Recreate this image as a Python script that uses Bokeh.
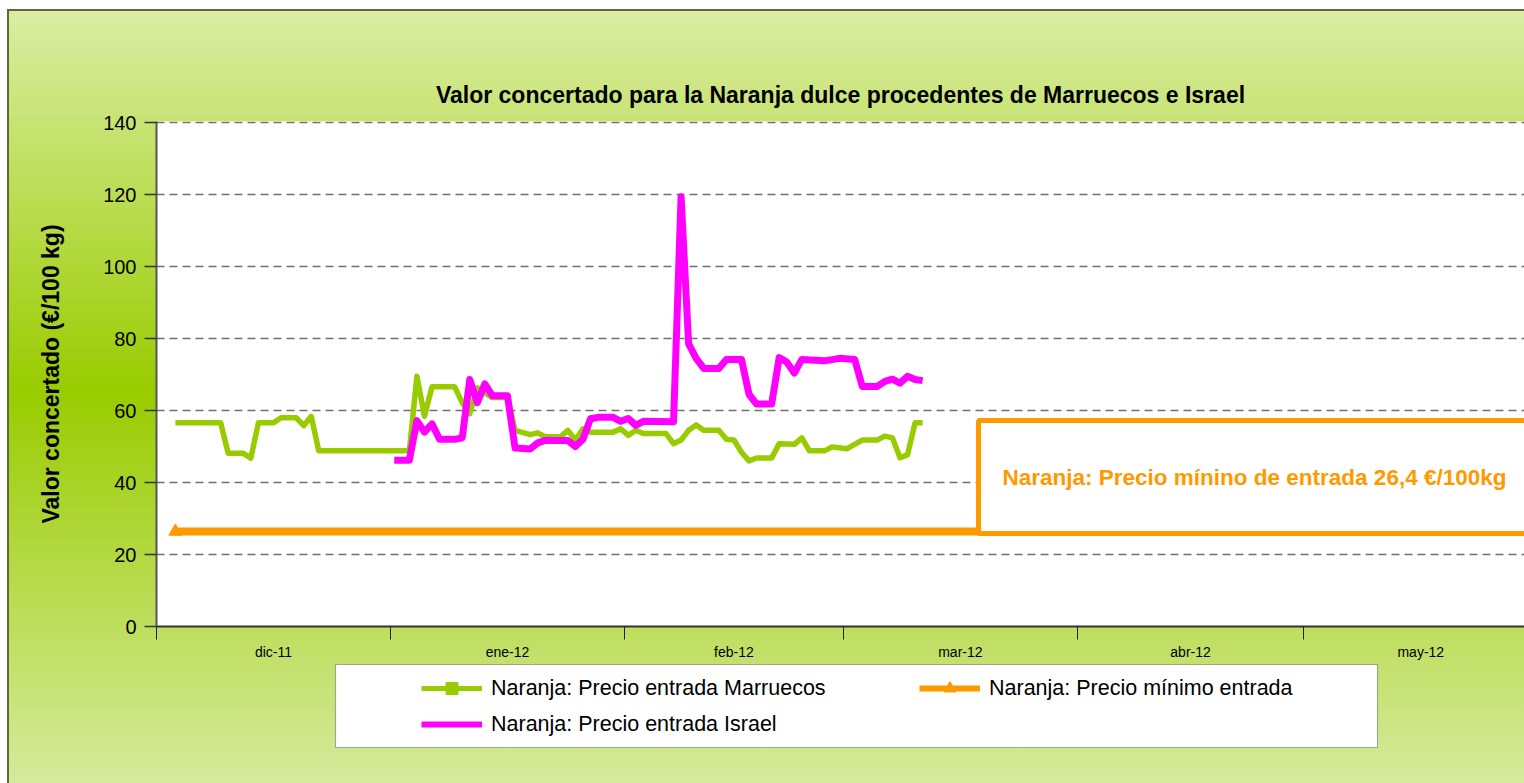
import pandas as pd
from bokeh.plotting import figure
from bokeh.layouts import column
from bokeh.models import (Range1d, FixedTicker, Legend, LegendItem, Label,
                          BoxAnnotation, ColumnDataSource)
from bokeh.embed import file_html
from bokeh.resources import INLINE

# ---------------- data ----------------
title_text = "Valor concertado para la Naranja dulce procedentes de Marruecos e Israel"
y_title = "Valor concertado (€/100 kg)"
note_text = "Naranja: Precio mínino de entrada 26,4 €/100kg"

month_starts = ["2011-12-01", "2012-01-01", "2012-02-01", "2012-03-01",
                "2012-04-01", "2012-05-01", "2012-06-01"]
month_labels = ["dic-11", "ene-12", "feb-12", "mar-12", "abr-12", "may-12"]
y_ticks = [0, 20, 40, 60, 80, 100, 120, 140]

label_marruecos = "Naranja: Precio entrada Marruecos"
label_minimo = "Naranja: Precio mínimo entrada"
label_israel = "Naranja: Precio entrada Israel"

marruecos_dates = [
    "2011-12-03", "2011-12-09", "2011-12-10", "2011-12-12", "2011-12-13", "2011-12-14",
    "2011-12-16", "2011-12-17", "2011-12-19", "2011-12-20", "2011-12-21", "2011-12-22",
    "2012-01-03", "2012-01-04", "2012-01-05", "2012-01-06", "2012-01-09", "2012-01-10",
    "2012-01-11", "2012-01-12", "2012-01-14", "2012-01-16", "2012-01-17", "2012-01-19",
    "2012-01-20", "2012-01-21", "2012-01-23", "2012-01-24", "2012-01-25", "2012-01-26",
    "2012-01-27", "2012-01-30", "2012-01-31", "2012-02-01", "2012-02-02", "2012-02-03",
    "2012-02-06", "2012-02-07", "2012-02-08", "2012-02-09", "2012-02-10", "2012-02-11",
    "2012-02-13", "2012-02-14", "2012-02-15", "2012-02-16", "2012-02-17", "2012-02-18",
    "2012-02-20", "2012-02-21", "2012-02-23", "2012-02-24", "2012-02-25", "2012-02-27",
    "2012-02-28", "2012-03-01", "2012-03-02", "2012-03-03", "2012-03-05", "2012-03-06",
    "2012-03-07", "2012-03-08", "2012-03-09", "2012-03-10", "2012-03-11"]
marruecos_values = [
    56.6, 56.6, 48.1, 48.1, 46.8, 56.6,
    56.6, 58.0, 58.0, 55.8, 58.4, 48.8,
    48.8, 69.5, 58.4, 66.6, 66.6, 62.2,
    59.1, 66.3, 63.6, 63.6, 54.5, 53.3,
    53.8, 52.7, 52.7, 54.5, 51.8, 54.9,
    54.0, 54.0, 54.9, 53.1, 54.5, 53.6,
    53.6, 50.8, 51.8, 54.5, 56.0, 54.5,
    54.5, 52.0, 51.8, 48.4, 46.0, 46.8,
    46.8, 50.8, 50.6, 52.4, 48.8, 48.8,
    49.9, 49.4, 50.6, 51.8, 51.8, 52.9,
    52.4, 46.9, 47.7, 56.6, 56.6]

israel_dates = [
    "2012-01-01", "2012-01-03", "2012-01-04", "2012-01-05", "2012-01-06", "2012-01-07",
    "2012-01-09", "2012-01-10", "2012-01-11", "2012-01-12", "2012-01-13", "2012-01-14",
    "2012-01-16", "2012-01-17", "2012-01-19", "2012-01-20", "2012-01-21", "2012-01-24",
    "2012-01-25", "2012-01-26", "2012-01-27", "2012-01-28", "2012-01-30", "2012-01-31",
    "2012-02-01", "2012-02-02", "2012-02-03", "2012-02-07", "2012-02-08", "2012-02-09",
    "2012-02-10", "2012-02-11", "2012-02-13", "2012-02-14", "2012-02-16", "2012-02-17",
    "2012-02-18", "2012-02-20", "2012-02-21", "2012-02-22", "2012-02-23", "2012-02-24",
    "2012-02-27", "2012-02-29", "2012-03-02", "2012-03-03", "2012-03-05", "2012-03-06",
    "2012-03-07", "2012-03-08", "2012-03-09", "2012-03-10", "2012-03-11"]
israel_values = [
    46.2, 46.2, 57.2, 54.0, 56.3, 52.0,
    52.0, 52.4, 68.6, 62.2, 67.4, 64.1,
    64.1, 49.6, 49.3, 51.0, 51.7, 51.7,
    50.0, 52.0, 57.7, 58.1, 58.1, 57.0,
    57.8, 55.9, 57.0, 56.9, 119.4, 78.5,
    74.5, 71.7, 71.7, 74.2, 74.2, 64.5,
    61.8, 61.8, 74.7, 73.5, 70.4, 74.2,
    73.8, 74.5, 74.2, 66.7, 66.7, 68.1,
    68.7, 67.6, 69.5, 68.6, 68.3]

minimo_dates = ["2011-12-03", "2012-05-31"]
minimo_values = [26.4, 26.4]

# ---------------- styling constants ----------------
GREEN = "#99cc00"
MAGENTA = "#ff00ff"
ORANGE = "#ff9900"
FONT = "Liberation Sans"

HALF_DAY = pd.Timedelta(hours=12)   # points sit in the middle of each day slot


def ms(ts):
    return pd.Timestamp(ts).value / 1e6


starts_ms = [ms(d) for d in month_starts]
mids_ms = [(a + b) / 2 for a, b in zip(starts_ms[:-1], starts_ms[1:])]
PX_PER_DAY = 7.548
W = 1524
H = 783
TOP_H = 662
LEFT = 156
x0 = starts_ms[0]
x1 = x0 + (W - LEFT) / PX_PER_DAY * 86400000.0

src_m = ColumnDataSource(dict(x=pd.to_datetime(marruecos_dates) + HALF_DAY, y=marruecos_values))
src_i = ColumnDataSource(dict(x=pd.to_datetime(israel_dates) + HALF_DAY, y=israel_values))
src_o = ColumnDataSource(dict(x=pd.to_datetime(minimo_dates) + HALF_DAY, y=minimo_values))

# ---------------- main chart ----------------
# the top of the range leaves ~1px so the dashed 140 grid line stays visible
p = figure(width=W, height=TOP_H, output_backend="svg", toolbar_location=None,
           x_range=Range1d(x0, x1), y_range=Range1d(0, 140.3),
           min_border_left=LEFT, min_border_right=0, min_border_top=121,
           min_border_bottom=27, background_fill_color="white",
           border_fill_color=None, outline_line_color=None)

p.title.text = title_text
p.title.align = "center"
p.title.text_font = FONT
p.title.text_font_style = "bold"
p.title.text_font_size = "23px"
p.title.text_color = "#000000"
p.title.standoff = 28

# grid
p.xgrid.visible = False
p.ygrid.grid_line_color = "#6f6f6f"
p.ygrid.grid_line_dash = "8 5"
p.ygrid.grid_line_width = 1.5

# y axis
ya = p.yaxis[0]
ya.ticker = FixedTicker(ticks=y_ticks)
ya.axis_line_color = "#555555"
ya.axis_line_width = 2
ya.major_tick_out = 12
ya.major_tick_in = 0
ya.major_tick_line_color = "#333333"
ya.major_tick_line_width = 1.5
ya.minor_tick_line_color = None
ya.major_label_standoff = 8
ya.major_label_text_font = FONT
ya.major_label_text_font_size = "20px"
ya.major_label_text_color = "#000000"
ya.axis_label = y_title
ya.axis_label_text_font = FONT
ya.axis_label_text_font_style = "bold"
ya.axis_label_text_font_size = "23px"
ya.axis_label_text_color = "#000000"
ya.axis_label_standoff = 36

# x axis: labels centred in each month, ticks at month boundaries
xa = p.xaxis[0]
xa.ticker = FixedTicker(ticks=mids_ms, minor_ticks=starts_ms)
xa.major_label_overrides = {m: lab for m, lab in zip(mids_ms, month_labels)}
xa.major_tick_line_color = None
xa.major_tick_out = 0
xa.major_tick_in = 0
xa.minor_tick_out = 13
xa.minor_tick_in = 0
xa.minor_tick_line_color = "#222222"
xa.minor_tick_line_width = 1
xa.axis_line_color = "#333333"
xa.axis_line_width = 2
xa.major_label_standoff = 4
xa.major_label_text_font = FONT
xa.major_label_text_font_size = "14px"
xa.major_label_text_color = "#000000"

# series
p.line("x", "y", source=src_o, line_color=ORANGE, line_width=8)
p.scatter("x", "y", source=src_o, marker="triangle", size=13,
          fill_color=ORANGE, line_color=ORANGE)
p.line("x", "y", source=src_m, line_color=GREEN, line_width=5.5, line_join="round")
p.line("x", "y", source=src_i, line_color=MAGENTA, line_width=7, line_join="round")

# callout for the minimum price
p.add_layout(Label(x=1098, y=149.5, x_units="screen", y_units="screen", text=note_text,
                   text_font=FONT, text_font_style="bold", text_font_size="22.5px",
                   text_color=ORANGE, text_align="center", text_baseline="middle",
                   background_fill_color="white", border_line_color=ORANGE,
                   border_line_width=5, padding=(24, 44)))

# ---------------- legend strip (page-pixel ranges) ----------------
q = figure(width=W, height=H - TOP_H, output_backend="svg", toolbar_location=None,
           x_range=Range1d(LEFT, W), y_range=Range1d(H, TOP_H),
           x_axis_location=None, y_axis_location=None,
           min_border_left=LEFT, min_border_right=0, min_border_top=0,
           min_border_bottom=0, background_fill_color=None,
           border_fill_color=None, outline_line_color=None)
q.grid.visible = False

q.add_layout(BoxAnnotation(left=335, right=1377, top=664, bottom=747,
                           fill_color="white", fill_alpha=1.0,
                           line_color="#000000", line_width=1.2))

# legend keys reuse the series sources; their data lie outside this strip's ranges
k_m = q.line("x", "y", source=src_m, line_color=GREEN, line_width=5)
k_ms = q.scatter("x", "y", source=src_m, marker="square", size=13,
                 fill_color=GREEN, line_color=GREEN)
k_o = q.line("x", "y", source=src_o, line_color=ORANGE, line_width=6)
k_os = q.scatter("x", "y", source=src_o, marker="triangle", size=13,
                 fill_color=ORANGE, line_color=ORANGE)
k_i = q.line("x", "y", source=src_i, line_color=MAGENTA, line_width=6)

legend = Legend(items=[LegendItem(label=label_marruecos, renderers=[k_m, k_ms]),
                       LegendItem(label=label_minimo, renderers=[k_o, k_os]),
                       LegendItem(label=label_israel, renderers=[k_i])],
                location=(421 - LEFT, H - 739), orientation="horizontal", ncols=2,
                padding=0, spacing=6, margin=0,
                glyph_width=61, glyph_height=30, label_height=30, label_width=422,
                label_standoff=9, label_text_font=FONT, label_text_font_size="21.5px",
                label_text_color="#000000", border_line_color=None,
                background_fill_alpha=0)
q.add_layout(legend, "center")

root = column(p, q, spacing=0)
root.styles = {
    "background-image": ("linear-gradient(to bottom, #ffffff 0px, #ffffff 9px, "
                         "#5d6a36 9px, #5d6a36 11px, #dbeda4 11px, #99cc00 50%, "
                         "#d6ea9c 100%)"),
    "box-shadow": ("inset 0 9px 0 0 #ffffff, inset 7px 0 0 0 #ffffff, "
                   "inset 9px 0 0 0 #5d6a36"),
}

open("out.html", "w").write(file_html(root, INLINE))
